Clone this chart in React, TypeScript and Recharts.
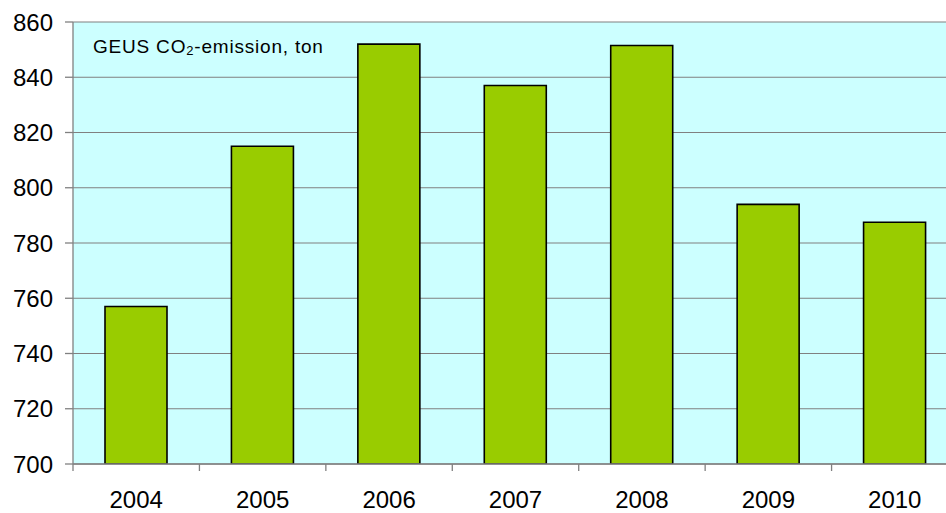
import React from "react";
import { Bar, BarChart, CartesianGrid, XAxis, YAxis } from "recharts";

const years = ["2004", "2005", "2006", "2007", "2008", "2009", "2010"];
const emissions = [757, 815, 852, 837, 851.5, 794, 787.5];
const yTicks = [700, 720, 740, 760, 780, 800, 820, 840, 860];

const data = years.map((year, i) => ({ year, value: emissions[i] }));

const CHART_W = 958;
const CHART_H = 513;
const Y_AXIS_W = 73;
const X_TICK_MARGIN = 27;
const band = (CHART_W - Y_AXIS_W) / years.length;

const font = "'Liberation Sans', Arial, sans-serif";

function YearTick(props: any) {
  const { x, y, payload } = props;
  const left = x - band / 2;
  const axisY = y - X_TICK_MARGIN;
  return (
    <g>
      <line x1={left} y1={axisY} x2={left} y2={axisY + 7} stroke="#808080" strokeWidth={1.3} />
      <text
        x={x}
        y={y}
        dy="0.71em"
        textAnchor="middle"
        fill="#000"
        fontSize={24}
        fontFamily={font}
      >
        {payload.value}
      </text>
    </g>
  );
}

export default function App() {
  return (
    <div
      style={{
        position: "absolute",
        left: 0,
        top: 0,
        width: 946,
        height: 513,
        overflow: "hidden",
        background: "#fff",
      }}
    >
      <BarChart
        width={CHART_W}
        height={CHART_H}
        data={data}
        margin={{ top: 22, right: 0, bottom: 0, left: 0 }}
        barSize={62}
      >
        <CartesianGrid vertical={false} fill="#CCFFFF" stroke="#808080" strokeWidth={1.2} horizontalValues={yTicks} />
        <XAxis
          dataKey="year"
          height={49}
          tickLine={false}
          tickSize={0}
          tickMargin={X_TICK_MARGIN}
          axisLine={{ stroke: "#808080", strokeWidth: 1.3 }}
          tick={<YearTick />}
          interval={0}
        />
        <YAxis
          type="number"
          domain={[700, 860]}
          ticks={yTicks}
          width={Y_AXIS_W}
          tickSize={8}
          tickMargin={12}
          interval={0}
          allowDataOverflow
          axisLine={{ stroke: "#808080", strokeWidth: 1.3 }}
          tickLine={{ stroke: "#808080", strokeWidth: 1.3 }}
          tick={{ fill: "#000", fontSize: 24, fontFamily: font }}
        />
        <Bar
          dataKey="value"
          fill="#99CC00"
          stroke="#000"
          strokeWidth={1.6}
          isAnimationActive={false}
        />
      </BarChart>
      <div
        style={{
          position: "absolute",
          left: 93,
          top: 36,
          fontFamily: font,
          fontSize: 19,
          letterSpacing: 0.8,
          color: "#000",
          whiteSpace: "nowrap",
        }}
      >
        GEUS CO<span style={{ fontSize: 13, verticalAlign: "-2px" }}>2</span>-emission, ton
      </div>
    </div>
  );
}
